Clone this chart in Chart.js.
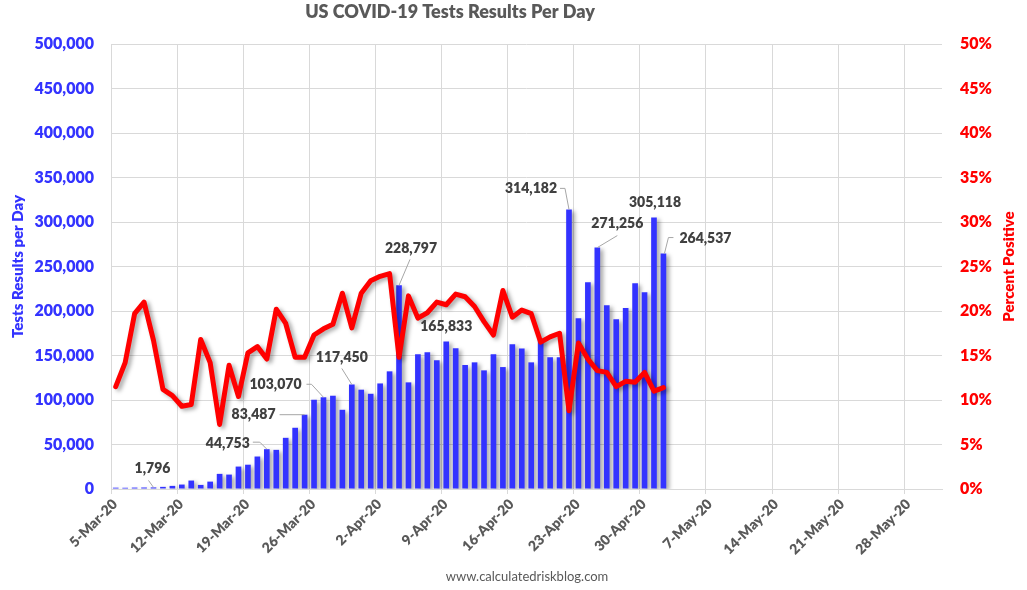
<!DOCTYPE html>
<html>
<head>
<meta charset="utf-8">
<title>US COVID-19 Tests Results Per Day</title>
<script src="https://cdn.jsdelivr.net/npm/chart.js@4.4.0/dist/chart.umd.min.js"></script>
<style>
    html, body { margin: 0; padding: 0; background: #fff; }
    #wrap { width: 1027px; height: 590px; position: relative; }
</style>
</head>
<body>
<div id="wrap"><canvas id="testsChart"></canvas></div>
<script>
// Data (one entry per day, 5-Mar-20 .. 2-May-20)
const days = [
    '5-Mar', '6-Mar', '7-Mar', '8-Mar', '9-Mar', '10-Mar', '11-Mar', '12-Mar', '13-Mar', '14-Mar',
    '15-Mar', '16-Mar', '17-Mar', '18-Mar', '19-Mar', '20-Mar', '21-Mar', '22-Mar', '23-Mar', '24-Mar',
    '25-Mar', '26-Mar', '27-Mar', '28-Mar', '29-Mar', '30-Mar', '31-Mar', '1-Apr', '2-Apr', '3-Apr',
    '4-Apr', '5-Apr', '6-Apr', '7-Apr', '8-Apr', '9-Apr', '10-Apr', '11-Apr', '12-Apr', '13-Apr',
    '14-Apr', '15-Apr', '16-Apr', '17-Apr', '18-Apr', '19-Apr', '20-Apr', '21-Apr', '22-Apr', '23-Apr',
    '24-Apr', '25-Apr', '26-Apr', '27-Apr', '28-Apr', '29-Apr', '30-Apr', '1-May', '2-May'
];

const tests = [
    1500, 1400, 1600, 1700, 1796, 2400, 3500, 5000, 9500, 4600,
    8300, 17000, 16200, 25200, 27300, 36500, 44753, 44000, 57500, 68800,
    83487, 100300, 103070, 104800, 89000, 117450, 111600, 107000, 118600, 132200,
    228797, 119800, 151300, 153600, 144600, 165833, 158100, 139300, 142300, 133300,
    151300, 137000, 162600, 158000, 142300, 168000, 148000, 148000, 314182, 191900,
    232400, 271256, 206500, 190700, 203500, 231300, 221100, 305118, 264537
];

const percentPositive = [
    11.5, 14.2, 19.7, 21.0, 16.7, 11.2, 10.5, 9.3, 9.5, 16.8,
    14.2, 7.25, 13.9, 10.4, 15.3, 16.0, 14.6, 20.2, 18.6, 14.8,
    14.8, 17.3, 18.0, 18.5, 22.0, 18.1, 22.0, 23.4, 23.9, 24.2,
    14.8, 21.7, 19.2, 19.8, 21.0, 20.7, 21.9, 21.6, 20.5, 18.8,
    17.3, 22.3, 19.3, 20.1, 19.7, 16.5, 17.1, 17.5, 8.8, 16.4,
    14.6, 13.3, 13.1, 11.5, 12.1, 12.0, 13.1, 11.0, 11.4
];

const tickLabels = [
    '5-Mar-20', '12-Mar-20', '19-Mar-20', '26-Mar-20', '2-Apr-20', '9-Apr-20', '16-Apr-20',
    '23-Apr-20', '30-Apr-20', '7-May-20', '14-May-20', '21-May-20', '28-May-20'
];

// days that get a value callout
const calloutDays = [4, 16, 20, 22, 25, 30, 35, 48, 51, 57, 58];

// where each callout sits relative to the top of its bar (pixels), plus its leader line
const calloutPlacement = {
    4:  { dx: -1,   dy: -19,  leader: [[-5, -7], [0, 0]] },
    16: { dx: -39,  dy: -6,   leader: [[-14, -7], [-7, -7], [0, 0]] },
    20: { dx: -51,  dy: 0,    leader: [[-25, 0], [0, 0]] },
    22: { dx: -48,  dy: -13,  leader: [[-17, -13], [-12, -13], [0, 0]] },
    25: { dx: -10,  dy: -27,  leader: [[-10, -16], [0, 0]] },
    30: { dx: 12,   dy: -37,  leader: [[11, -26], [0, 0]] },
    35: { dx: 0,    dy: -15,  leader: null },
    48: { dx: -38,  dy: -21,  leader: [[-9, -21], [-4, -21], [0, 0]] },
    51: { dx: 20,   dy: -24,  leader: [[20, -12], [0, 0]] },
    57: { dx: 1,    dy: -15,  leader: null },
    58: { dx: 42,   dy: -15,  leader: [[10, -16], [5, -16], [1, 0]] }
};

const BLUE = '#3333FF';
const RED = '#FF0000';
const GRID = '#d9d9d9';
const FONT = 'Lato, "Open Sans", sans-serif';
const HEAVY = '800';

function formatNumber(value) {
    return value.toLocaleString('en-US', { maximumFractionDigits: 0 });
}

// Drop shadow under bars and line, like the spreadsheet original
const shadowPlugin = {
    id: 'shadow',
    beforeDatasetDraw(chart) {
        const ctx = chart.ctx;
        ctx.save();
        ctx.shadowColor = 'rgba(0, 0, 0, 0.35)';
        ctx.shadowBlur = 4;
        ctx.shadowOffsetX = 3;
        ctx.shadowOffsetY = 2;
    },
    afterDatasetDraw(chart) {
        chart.ctx.restore();
    }
};

// Title, axis titles, callouts and source line
const decorPlugin = {
    id: 'decor',
    afterDatasetsDraw(chart) {
        const ctx = chart.ctx;
        const barMeta = chart.getDatasetMeta(1);
        ctx.save();
        ctx.font = HEAVY + ' 14px ' + FONT;
        ctx.textAlign = 'center';
        ctx.textBaseline = 'middle';
        calloutDays.forEach(i => {
            const bar = barMeta.data[i];
            const place = calloutPlacement[i];
            const x0 = bar.x;
            const y0 = bar.y;
            if (place.leader) {
                ctx.strokeStyle = '#a6a6a6';
                ctx.lineWidth = 1;
                ctx.beginPath();
                place.leader.forEach(([lx, ly], k) => {
                    if (k === 0) ctx.moveTo(x0 + lx, y0 + ly);
                    else ctx.lineTo(x0 + lx, y0 + ly);
                });
                ctx.stroke();
            }
            ctx.fillStyle = '#404040';
            ctx.fillText(formatNumber(tests[i]), x0 + place.dx, y0 + place.dy);
        });
        ctx.restore();
    },
    afterDraw(chart) {
        const ctx = chart.ctx;
        const area = chart.chartArea;
        const midY = (area.top + area.bottom) / 2;
        ctx.save();
        ctx.textAlign = 'center';
        ctx.textBaseline = 'middle';

        ctx.fillStyle = '#595959';
        ctx.font = HEAVY + ' 18px ' + FONT;
        ctx.fillText('US COVID-19 Tests Results Per Day', 450, 12);

        ctx.font = '13px ' + FONT;
        ctx.fillText('www.calculatedriskblog.com', 527, 577);

        ctx.font = HEAVY + ' 15px ' + FONT;
        ctx.fillStyle = BLUE;
        ctx.save();
        ctx.translate(18, midY);
        ctx.rotate(-Math.PI / 2);
        ctx.fillText('Tests Results per Day', 0, 0);
        ctx.restore();

        ctx.fillStyle = RED;
        ctx.save();
        ctx.translate(1009, midY);
        ctx.rotate(-Math.PI / 2);
        ctx.fillText('Percent Positive', 0, 0);
        ctx.restore();

        ctx.restore();
    }
};

function initializeChart() {
    const ctx = document.getElementById('testsChart').getContext('2d');

    const barPoints = tests.map((v, i) => ({ x: i + 0.5, y: v }));
    const linePoints = percentPositive.map((v, i) => ({ x: i + 0.5, y: v }));

    return new Chart(ctx, {
        type: 'bar',
        data: {
            datasets: [{
                type: 'line',
                label: 'Percent Positive',
                data: linePoints,
                yAxisID: 'y1',
                borderColor: RED,
                borderWidth: 5,
                borderJoinStyle: 'round',
                borderCapStyle: 'round',
                pointRadius: 0,
                tension: 0,
                order: 1
            }, {
                type: 'bar',
                label: 'Tests Results per Day',
                data: barPoints,
                yAxisID: 'y',
                backgroundColor: BLUE,
                categoryPercentage: 1,
                barPercentage: 0.6,
                order: 2
            }]
        },
        options: {
            responsive: true,
            maintainAspectRatio: false,
            animation: false,
            layout: { padding: { top: 44, left: 0, right: 0, bottom: 0 } },
            plugins: {
                legend: { display: false },
                tooltip: { enabled: false }
            },
            scales: {
                x: {
                    type: 'linear',
                    min: 0,
                    max: 88,
                    offset: false,
                    grid: { offset: false, color: GRID, tickLength: 5 },
                    border: { color: GRID },
                    afterFit: s => { s.height = 101; },
                    ticks: {
                        stepSize: 7,
                        includeBounds: false,
                        autoSkip: false,
                        maxRotation: 45,
                        minRotation: 45,
                        padding: 2,
                        labelOffset: 4,
                        color: '#595959',
                        font: { family: FONT, size: 14, weight: HEAVY },
                        callback: value => tickLabels[value / 7]
                    }
                },
                y: {
                    position: 'left',
                    min: 0,
                    max: 500000,
                    grid: { color: GRID, drawTicks: false },
                    border: { display: false },
                    afterFit: s => { s.width = 111; },
                    ticks: {
                        stepSize: 50000,
                        padding: 17,
                        color: BLUE,
                        font: { family: FONT, size: 16, weight: HEAVY },
                        callback: value => formatNumber(value)
                    }
                },
                y1: {
                    position: 'right',
                    min: 0,
                    max: 50,
                    grid: { drawOnChartArea: false, drawTicks: false },
                    border: { display: false },
                    afterFit: s => { s.width = 85; },
                    ticks: {
                        stepSize: 5,
                        padding: 18,
                        color: RED,
                        font: { family: FONT, size: 16, weight: HEAVY },
                        callback: value => value + '%'
                    }
                }
            }
        },
        plugins: [shadowPlugin, decorPlugin]
    });
}

document.addEventListener('DOMContentLoaded', () => {
    initializeChart();
});
</script>
</body>
</html>
